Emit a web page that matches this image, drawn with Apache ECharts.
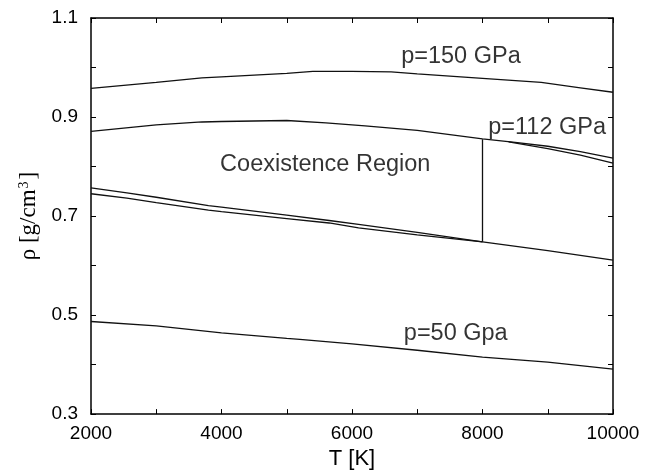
<!DOCTYPE html>
<html>
<head>
<meta charset="utf-8">
<script src="https://cdn.jsdelivr.net/npm/echarts@6/dist/echarts.min.js"></script>
<style>
html,body{margin:0;padding:0;background:#fff;}
#main{width:664px;height:475px;}
</style>
</head>
<body>
<div id="main"></div>
<script>
// density curves, [T (K), rho (g/cm3)]
var p150 = [[2000,0.958],[3000,0.970],[3700,0.979],[4000,0.981],[5000,0.988],[5400,0.992],[6000,0.992],[6600,0.991],[7000,0.987],[8000,0.978],[8900,0.970],[9500,0.959],[10000,0.950]];
var p112Top = [[2000,0.871],[3000,0.884],[3700,0.890],[4000,0.891],[5000,0.893],[5600,0.888],[6200,0.882],[7000,0.873],[8000,0.856],[8500,0.849],[9000,0.841],[9500,0.830],[10000,0.817]];
var p112Branch = [[8400,0.850],[9000,0.836],[9500,0.823],[10000,0.807]];
var p112LowA = [[2000,0.757],[2550,0.747],[3000,0.738],[3800,0.721],[4000,0.718],[5000,0.702],[5650,0.691],[6100,0.683],[7000,0.667],[8000,0.648]];
var p112LowB = [[2000,0.745],[2550,0.736],[3000,0.727],[3800,0.712],[4000,0.709],[5000,0.695],[5650,0.686],[6100,0.676],[7000,0.662],[8000,0.648],[9000,0.630],[10000,0.611]];
var coexEdge = [[8000,0.648],[8000,0.855]];
var p50 = [[2000,0.487],[3000,0.478],[4000,0.464],[5000,0.453],[5200,0.451],[6000,0.442],[7000,0.429],[8000,0.415],[9000,0.405],[10000,0.391]];

// text annotations [T, rho, text]
var notes = [[7670,1.022,'p=150 GPa'],[8990,0.878,'p=112 GPa'],[5590,0.804,'Coexistence Region'],[7590,0.462,'p=50 Gpa']];

var myChart = echarts.init(document.getElementById('main'));

function curve(d){
    return {
        type:'line',
        data:d,
        showSymbol:false,
        silent:true,
        lineStyle:{color:'#111',width:1.3},
        xAxisIndex:0,
        yAxisIndex:0
    };
}

var sans = 'Liberation Sans, Arial, sans-serif';
var tickFont = {color:'#000',fontSize:19,fontFamily:sans};
var line = {show:true,lineStyle:{color:'#000',width:1.5}};
var tick = {show:true,inside:true,length:5,lineStyle:{color:'#000',width:1}};

var option = {
    animation:false,
    backgroundColor:'#fff',
    grid:{left:91,right:51,top:18,bottom:57,containLabel:false},
    xAxis:[{
        type:'value',min:2000,max:10000,interval:1000,
        name:'T [K]',nameLocation:'middle',nameGap:31,
        nameTextStyle:{color:'#000',fontSize:22,fontFamily:sans},
        axisLine:line,axisTick:tick,splitLine:{show:false},
        axisLabel:Object.assign({margin:10,formatter:function(v){return v%2000===0?String(v):'';}},tickFont)
    },{
        type:'value',position:'top',min:2000,max:10000,interval:1000,
        axisLine:line,axisTick:tick,splitLine:{show:false},axisLabel:{show:false}
    }],
    yAxis:[{
        type:'value',min:0.3,max:1.1,interval:0.1,
        name:'{a|ρ [g/cm}{s|3}{a|]}',nameLocation:'middle',nameGap:46,nameRotate:90,
        nameTextStyle:{
            color:'#000',fontFamily:'Liberation Serif, Times New Roman, serif',
            rich:{
                a:{fontSize:23,fontFamily:'Liberation Serif, Times New Roman, serif',color:'#000'},
                s:{fontSize:14,fontFamily:'Liberation Serif, Times New Roman, serif',color:'#000',verticalAlign:'top',padding:[0,2,10,1]}
            }
        },
        axisLine:line,axisTick:tick,splitLine:{show:false},
        axisLabel:Object.assign({margin:13,formatter:function(v){return Math.round(v*10)%2===1?v.toFixed(1):'';}},tickFont)
    },{
        type:'value',position:'right',min:0.3,max:1.1,interval:0.1,
        axisLine:line,axisTick:tick,splitLine:{show:false},axisLabel:{show:false}
    }],
    series:[
        curve(p150),
        curve(p112Top),
        curve(p112Branch),
        curve(p112LowA),
        curve(p112LowB),
        curve(coexEdge),
        curve(p50),
        {
            type:'scatter',
            data:notes,
            symbolSize:0,
            silent:true,
            label:{
                show:true,position:'inside',color:'#000',fontSize:23.5,
                fontFamily:sans,
                formatter:function(p){return p.data[2];}
            }
        }
    ]
};
myChart.setOption(option);
</script>
</body>
</html>
